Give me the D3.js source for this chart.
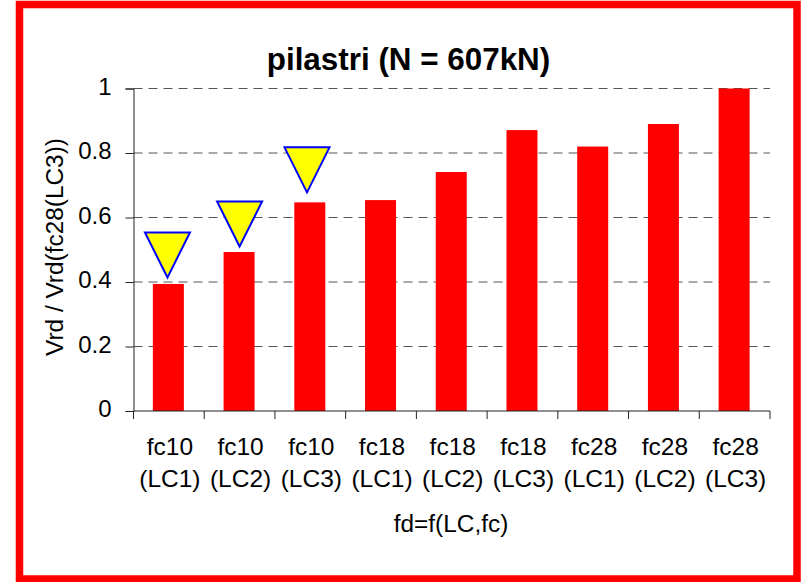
<!DOCTYPE html>
<html>
<head>
<meta charset="utf-8">
<script src="https://cdn.jsdelivr.net/npm/d3@7"></script>
<style>
  html, body { margin: 0; padding: 0; background: #fff; }
  svg { display: block; }
  text { font-family: "Liberation Sans", Arial, sans-serif; fill: #000; }
</style>
</head>
<body>
<div id="canvas"></div>
<script>
const categories = ["fc10 (LC1)", "fc10 (LC2)", "fc10 (LC3)", "fc18 (LC1)", "fc18 (LC2)", "fc18 (LC3)", "fc28 (LC1)", "fc28 (LC2)", "fc28 (LC3)"];
const values = [0.394, 0.493, 0.647, 0.654, 0.741, 0.871, 0.82, 0.89, 1];
const yTicks = [0, 0.2, 0.4, 0.6, 0.8, 1];
// the three flagged columns and the value each triangle's tip points at
const markerCategories = ["fc10 (LC1)", "fc10 (LC2)", "fc10 (LC3)"];
const markerTips = [0.414, 0.51, 0.678];

const width = 801, height = 582;
const margin = { top: 88.5, right: 31, bottom: 171, left: 133.5 };
const graphWidth = width - margin.left - margin.right;
const graphHeight = height - margin.top - margin.bottom;

const svg = d3.select("#canvas").append("svg")
    .attr("width", width)
    .attr("height", height);

// red frame, it runs a bit off the right and top of the picture
svg.append("rect")
    .attr("x", 19.5)
    .attr("y", 4.5)
    .attr("width", 777.5)
    .attr("height", 574.5)
    .attr("fill", "#fff")
    .attr("stroke", "#ff0000")
    .attr("stroke-width", 7.5);

const graph = svg.append("g")
    .attr("transform", `translate(${margin.left},${margin.top})`);

const x = d3.scaleBand()
    .domain(categories)
    .range([0, graphWidth]);

const y = d3.scaleLinear()
    .domain([0, 1])
    .range([graphHeight, 0]);

// Gridlines
graph.selectAll(".grid")
    .data(yTicks.filter(d => d > 0))
    .enter()
    .append("line")
    .attr("class", "grid")
    .attr("x1", 0)
    .attr("x2", graphWidth)
    .attr("y1", d => y(d))
    .attr("y2", d => y(d))
    .attr("stroke", "#555")
    .attr("stroke-width", 1)
    .attr("stroke-dasharray", "9 6");

// Bars
graph.selectAll(".bar")
    .data(values)
    .enter()
    .append("rect")
    .attr("class", "bar")
    .attr("x", (d, i) => x(categories[i]) + x.bandwidth() / 2 - 16)
    .attr("y", d => y(d))
    .attr("width", 31)
    .attr("height", d => graphHeight - y(d))
    .attr("fill", "#ff0000");

// Y axis
const yAxis = graph.append("g")
    .call(d3.axisLeft(y).tickValues(yTicks).tickFormat(d3.format("")).tickSize(8).tickPadding(13));
yAxis.select(".domain").attr("stroke", "#222").attr("stroke-width", 1);
yAxis.selectAll("line").attr("stroke", "#222");
yAxis.selectAll("text").style("font-size", "24px").attr("dy", "0.23em").attr("dx", "-1");

// X axis, ticks sit between the categories
const xAxis = graph.append("g")
    .attr("transform", `translate(0,${graphHeight})`);
xAxis.append("line")
    .attr("x1", 0)
    .attr("x2", graphWidth)
    .attr("stroke", "#222");
xAxis.selectAll(".tick")
    .data(categories.concat(null))
    .enter()
    .append("line")
    .attr("class", "tick")
    .attr("x1", (d, i) => i * x.step())
    .attr("x2", (d, i) => i * x.step())
    .attr("y1", 0)
    .attr("y2", 8)
    .attr("stroke", "#222");

const xLabels = xAxis.selectAll(".label")
    .data(categories)
    .enter()
    .append("text")
    .attr("class", "label")
    .attr("text-anchor", "middle")
    .style("font-size", "24.5px");
xLabels.append("tspan")
    .attr("x", d => x(d) + x.bandwidth() / 2 + 1)
    .attr("y", 44)
    .text(d => d.split(" ")[0]);
xLabels.append("tspan")
    .attr("x", d => x(d) + x.bandwidth() / 2 + 1)
    .attr("y", 76)
    .text(d => d.split(" ")[1]);

// Yellow triangles over the first columns
const triShift = [-1.4, 0, -3.3];
graph.selectAll(".marker")
    .data(markerTips)
    .enter()
    .append("path")
    .attr("class", "marker")
    .attr("d", (d, i) => {
        const cx = x(markerCategories[i]) + x.bandwidth() / 2 + triShift[i];
        const tip = y(d);
        return `M${cx},${tip}L${cx - 22.5},${tip - 45}L${cx + 22.5},${tip - 45}Z`;
    })
    .attr("fill", "#ffff00")
    .attr("stroke", "#0000ff")
    .attr("stroke-width", 2);

// Title and axis labels
svg.append("text")
    .attr("x", 408.5)
    .attr("y", 70)
    .attr("text-anchor", "middle")
    .style("font-size", "31.4px")
    .style("font-weight", "bold")
    .text("pilastri (N = 607kN)");

svg.append("text")
    .attr("x", 451)
    .attr("y", 532)
    .attr("text-anchor", "middle")
    .style("font-size", "24.4px")
    .text("fd=f(LC,fc)");

svg.append("text")
    .attr("transform", "translate(63,247) rotate(-90)")
    .attr("text-anchor", "middle")
    .style("font-size", "24.4px")
    .text("Vrd / Vrd(fc28(LC3))");
</script>
</body>
</html>
